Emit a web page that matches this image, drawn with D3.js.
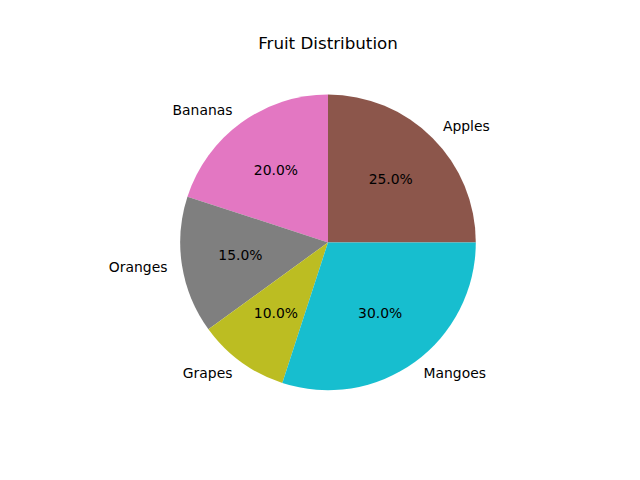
<!DOCTYPE html>
<html>
<head>
<meta charset="utf-8">
<script src="https://cdn.jsdelivr.net/npm/d3@7"></script>
<style>
  body { margin: 0; background: #fff; }
  text { font-family: "DejaVu Sans", sans-serif; }
</style>
</head>
<body>
<div id="chart"></div>
<script>
// fruit shares, drawn counter-clockwise from 3 o'clock like matplotlib
const fruits = ["Apples", "Bananas", "Oranges", "Grapes", "Mangoes"];
const shares = [25, 20, 15, 10, 30];
const colors = ["#8c564b", "#e377c2", "#7f7f7f", "#bcbd22", "#17becf"];

const width = 640, height = 480;
const cx = 328, cy = 242.4;
const R = 147.8;

const svg = d3.select("#chart")
  .append("svg")
  .attr("width", width)
  .attr("height", height);

const data = fruits.map((f, i) => ({name: f, value: shares[i], color: colors[i]}));

const pie = d3.pie()
  .value(d => d.value)
  .sort(null)
  .startAngle(Math.PI / 2)
  .endAngle(Math.PI / 2 - 2 * Math.PI);

const arcs = pie(data);

const arc = d3.arc().innerRadius(0).outerRadius(R);
const labelArc = d3.arc().innerRadius(R * 1.1).outerRadius(R * 1.1);
const pctArc = d3.arc().innerRadius(R * 0.6).outerRadius(R * 0.6);

const g = svg.append("g")
  .attr("transform", `translate(${cx},${cy})`);

g.selectAll("path")
  .data(arcs)
  .enter()
  .append("path")
  .attr("d", arc)
  .attr("fill", d => d.data.color);

g.selectAll(".label")
  .data(arcs)
  .enter()
  .append("text")
  .attr("class", "label")
  .attr("x", d => labelArc.centroid(d)[0])
  .attr("y", d => labelArc.centroid(d)[1])
  .attr("dy", "0.28em")
  .attr("text-anchor", d => labelArc.centroid(d)[0] > 0 ? "start" : "end")
  .style("font-size", "13.9px")
  .text(d => d.data.name);

g.selectAll(".pct")
  .data(arcs)
  .enter()
  .append("text")
  .attr("class", "pct")
  .attr("x", d => pctArc.centroid(d)[0])
  .attr("y", d => pctArc.centroid(d)[1])
  .attr("dy", "0.28em")
  .attr("text-anchor", "middle")
  .style("font-size", "13.9px")
  .text(d => d.data.value.toFixed(1) + "%");

svg.append("text")
  .attr("x", cx)
  .attr("y", 49)
  .attr("text-anchor", "middle")
  .style("font-size", "16.7px")
  .text("Fruit Distribution");
</script>
</body>
</html>
